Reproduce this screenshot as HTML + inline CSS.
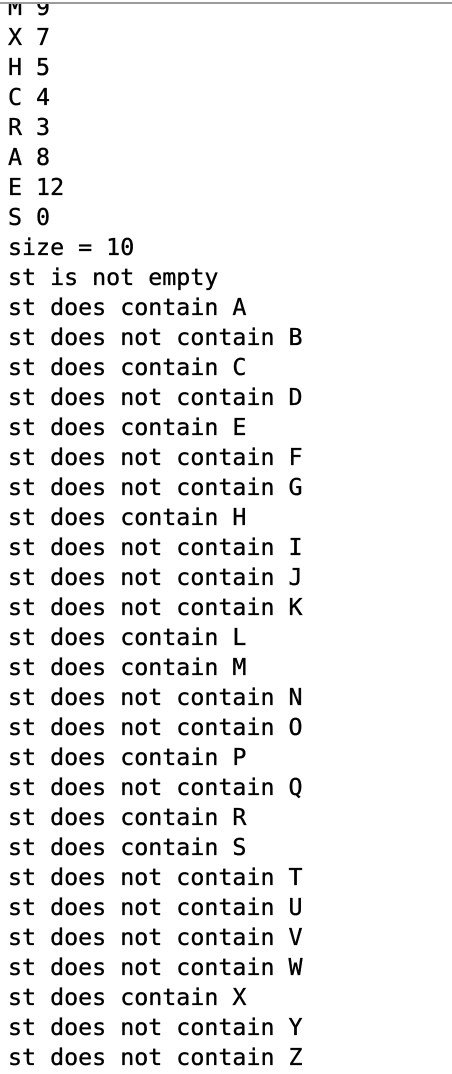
<!DOCTYPE html>
<html><head><style>
html,body{margin:0;padding:0;width:452px;height:1074px;overflow:hidden;background:#fff;}
.bar{position:absolute;left:0;top:0;width:452px;height:4px;background:#fff;border-bottom:2px solid #9a9a9a;box-sizing:border-box;z-index:2}
.t{position:absolute;left:8px;top:-7px;font-family:"DejaVu Sans Mono","Liberation Mono",monospace;font-size:23.3px;line-height:30px;color:#000;white-space:pre;-webkit-text-stroke:0.35px #000;}
</style></head><body>
<div class="bar"></div>
<div class="t">M 9
X 7
H 5
C 4
R 3
A 8
E 12
S 0
size = 10
st is not empty
st does contain A
st does not contain B
st does contain C
st does not contain D
st does contain E
st does not contain F
st does not contain G
st does contain H
st does not contain I
st does not contain J
st does not contain K
st does contain L
st does contain M
st does not contain N
st does not contain O
st does contain P
st does not contain Q
st does contain R
st does contain S
st does not contain T
st does not contain U
st does not contain V
st does not contain W
st does contain X
st does not contain Y
st does not contain Z</div>
</body></html>
